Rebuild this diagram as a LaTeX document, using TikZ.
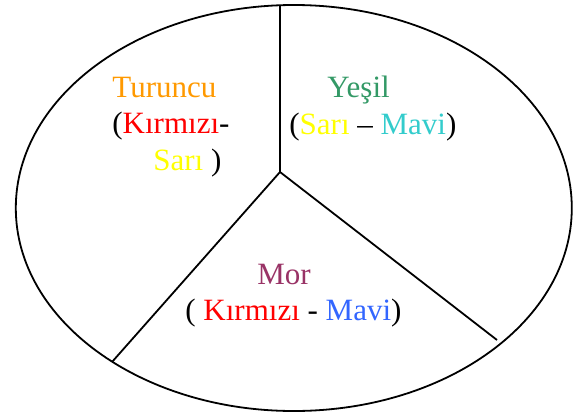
\documentclass[tikz,border=0pt]{standalone}
\usepackage{fontspec}
\setmainfont{Liberation Serif}
\usepackage{tikz}
\usetikzlibrary{positioning}
\definecolor{turuncu}{RGB}{255,153,0}
\definecolor{kirmizi}{RGB}{255,0,0}
\definecolor{sari}{RGB}{255,255,0}
\definecolor{yesil}{RGB}{51,153,102}
\definecolor{turkuaz}{RGB}{51,204,204}
\definecolor{mor}{RGB}{153,51,102}
\definecolor{mavi}{RGB}{51,102,255}
\tikzset{
  rimln/.style={line width=0.9pt, black},
  renklbl/.style={font=\fontsize{15.5}{18.5}\selectfont, inner sep=0pt, anchor=base west},
}

\begin{document}
\begin{tikzpicture}[x=0.5pt, y=-0.5pt]
  \useasboundingbox (0,0) rectangle (579,418);
  % daire ve dilimler
  \draw[rimln] (293.8,208) ellipse [x radius=139pt, y radius=101.5pt];
  \coordinate (merkez) at (280,172);
  \coordinate (ust) at (280,5);
  \coordinate (solalt) at (112,362);
  \coordinate (sagalt) at (497,340);
  \foreach \uc in {ust, solalt, sagalt} {
    \draw[rimln] (merkez) -- (\uc);
  }
  % renk adlari
  \node[renklbl, turuncu] (lTuruncu) at (112,97) {Turuncu};
  \node[renklbl] (lTuruncuA) at (112,133) {(\textcolor{kirmizi}{Kırmızı}-};
  \node[renklbl] (lTuruncuB) at (153,170) {\textcolor{sari}{Sarı} )};
  \node[renklbl, yesil] (lYesil) at (327,97) {Yeşil};
  \node[renklbl] (lYesilA) at (289,134)
    {(\textcolor{sari}{Sarı} – \textcolor{turkuaz}{Mavi})};
  \node[renklbl, mor] (lMor) at (257,284) {Mor};
  \node[renklbl] (lMorA) at (185,320)
    {( \textcolor{kirmizi}{Kırmızı} - \textcolor{mavi}{Mavi})};
\end{tikzpicture}
\end{document}
